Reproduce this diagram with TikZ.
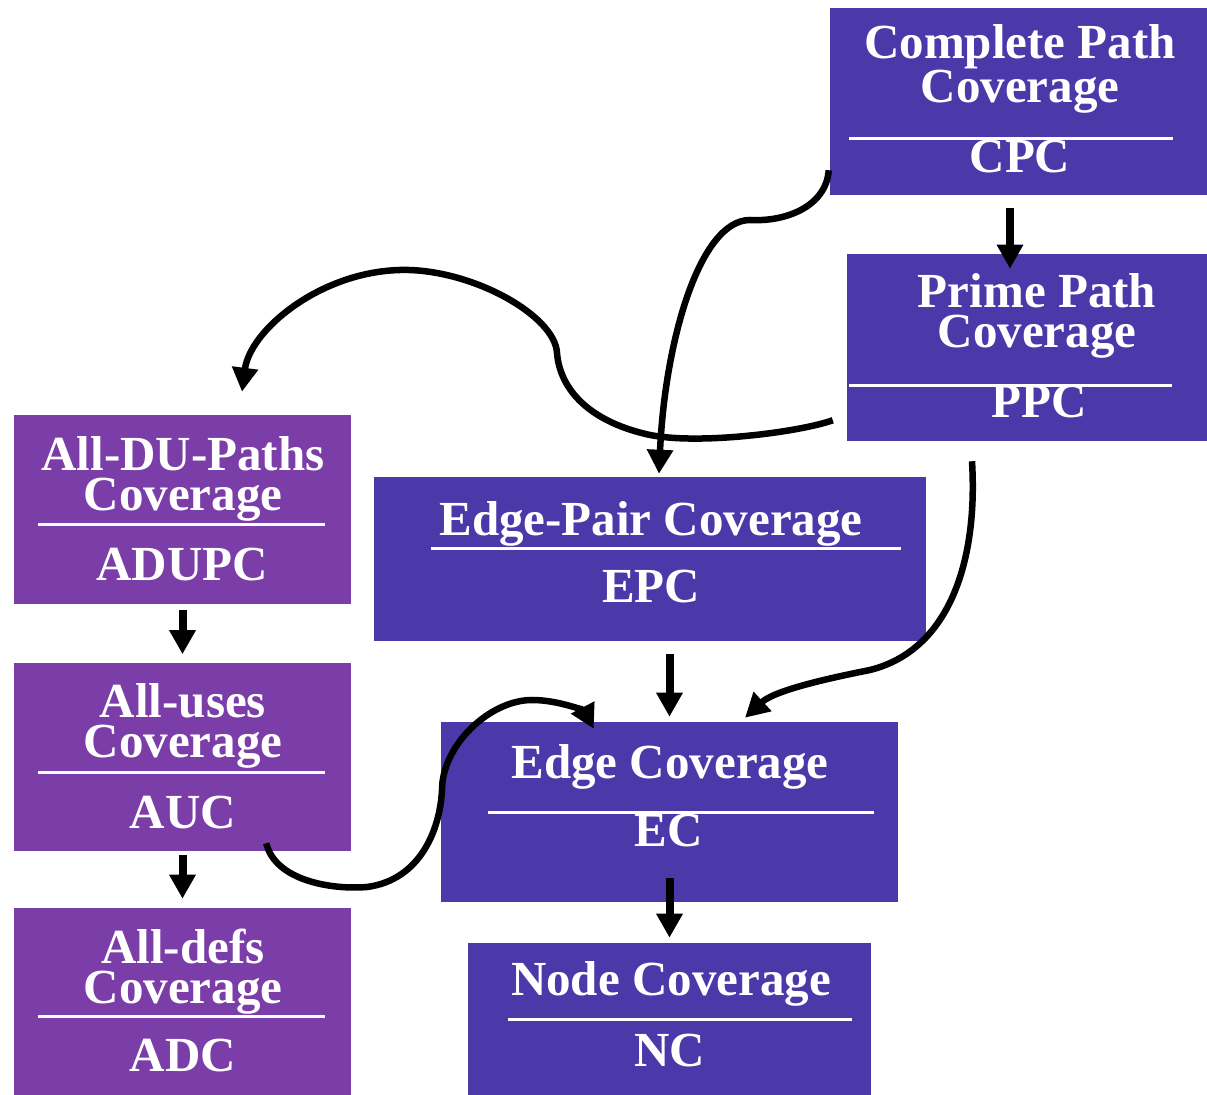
\documentclass[tikz,border=0pt]{standalone}
\usepackage{fontspec}
\setmainfont{Liberation Serif}
\usetikzlibrary{arrows.meta}
\definecolor{PathBlue}{RGB}{75,57,170}
\definecolor{DataPurple}{RGB}{123,62,168}

\begin{document}
\begin{tikzpicture}[x=0.5pt, y=-0.5pt, -{Triangle[length=12pt, width=12.5pt]}, line width=3.25pt,
    every node/.append style={font=\fontsize{24.5pt}{20pt}\selectfont\bfseries, text=white, inner sep=0pt}]
  \tikzstyle{box} = [rectangle, fill=PathBlue, draw=none]
  \tikzstyle{dubox} = [box, fill=DataPurple]
  \tikzstyle{title} = [anchor=base, align=center]
  \tikzstyle{rule} = [-, draw=white, line width=1.5pt]
  \tikzstyle{subsumes} = [line width=4pt]
  \useasboundingbox (0,0) rectangle (1207,1095);
  % graph coverage
  \node (cpc) [box, minimum width=188.5pt, minimum height=93.5pt] at (1018.5,101.5) {};
  \node (ppc) [box, minimum width=180pt, minimum height=93.5pt] at (1027,347.5) {};
  \node (epc) [box, minimum width=276pt, minimum height=82pt] at (650,559) {};
  \node (ec) [box, minimum width=228.5pt, minimum height=90pt] at (669.5,812) {};
  \node (nc) [box, minimum width=201.5pt, minimum height=76pt] at (669.5,1019) {};
  % data flow coverage
  \node (adupc) [dubox, minimum width=168.5pt, minimum height=94.5pt] at (182.5,509.5) {};
  \node (auc) [dubox, minimum width=168.5pt, minimum height=94pt] at (182.5,757) {};
  \node (adc) [dubox, minimum width=168.5pt, minimum height=93.5pt] at (182.5,1001.5) {};
  % labels (base = last line)
  \node (cpc title) [title] at (1020,103) {Complete Path\\Coverage};
  \node (cpc code) [title] at (1020,173) {CPC};
  \node (ppc title) [title] at (1037,348) {Prime Path\\Coverage};
  \node (ppc code) [title] at (1039,418) {PPC};
  \node (epc title) [title] at (651,536) {Edge-Pair Coverage};
  \node (epc code) [title] at (651,603) {EPC};
  \node (ec title) [title] at (670,779) {Edge Coverage};
  \node (ec code) [title] at (669,847) {EC};
  \node (nc title) [title] at (671,996) {Node Coverage};
  \node (nc code) [title] at (670,1067) {NC};
  \node (adupc title) [title] at (183,511) {All-DU-Paths\\Coverage};
  \node (adupc code) [title] at (182,581) {ADUPC};
  \node (auc title) [title] at (183,758) {All-uses\\Coverage};
  \node (auc code) [title] at (183,829) {AUC};
  \node (adc title) [title] at (183,1004) {All-defs\\Coverage};
  \node (adc code) [title] at (183,1072) {ADC};
  \draw[rule] (849,139) -- (1173,139);
  \draw[rule] (849,386) -- (1172,386);
  \draw[rule] (431,549) -- (901,549);
  \draw[rule] (488,813) -- (874,813);
  \draw[rule] (508,1020) -- (852,1020);
  \draw[rule] (38,525) -- (325,525);
  \draw[rule] (38,773) -- (325,773);
  \draw[rule] (38,1017) -- (325,1017);
  % straight arrows
  \draw[subsumes] ([xshift=-4.25pt,yshift=-5pt]cpc.south) -- ([xshift=-8.5pt,yshift=-9pt]ppc.north);
  \draw[subsumes] ([xshift=9.75pt,yshift=-5pt]epc.south) -- ([yshift=1pt]ec.north);
  \draw[subsumes] ([yshift=13.5pt]ec.south) -- ([yshift=1pt]nc.north);
  \draw[subsumes] ([yshift=-1.5pt]adupc.south) -- ([yshift=2.75pt]auc.north);
  \draw[subsumes] ([yshift=-0.5pt]auc.south) -- ([yshift=3pt]adc.north);
  % curved arrows
  \draw ([xshift=1pt,yshift=14pt]cpc.south west) .. controls (826,207) and (785,222) .. (750,220)
    .. controls (700,220) and (665,340) .. ([xshift=4.5pt]epc.north);
  \draw ([xshift=-5.5pt,yshift=12pt]ppc.south west) .. controls (800,432) and (700,445) .. (650,435)
    .. controls (590,422) and (560,390) .. (557,353)
    .. controls (555,315) and (470,268) .. (400,270)
    .. controls (320,272) and (250,330) .. ([xshift=29.75pt,yshift=10pt]adupc.north);
  \draw ([xshift=-27.5pt,yshift=-8.5pt]ppc.south) .. controls (978,560) and (950,650) .. (870,670)
    .. controls (830,678) and (775,690) .. ([xshift=37.75pt,yshift=0.5pt]ec.north);
  \draw ([xshift=-44pt,yshift=5.5pt]auc.south east) .. controls (275,880) and (330,890) .. (367,887)
    .. controls (420,880) and (440,830) .. (442,790)
    .. controls (442,745) and (490,700) .. (532,700)
    .. controls (560,700) and (585,712) .. ([xshift=78pt,yshift=-5pt]ec.north west);
\end{tikzpicture}
\end{document}
